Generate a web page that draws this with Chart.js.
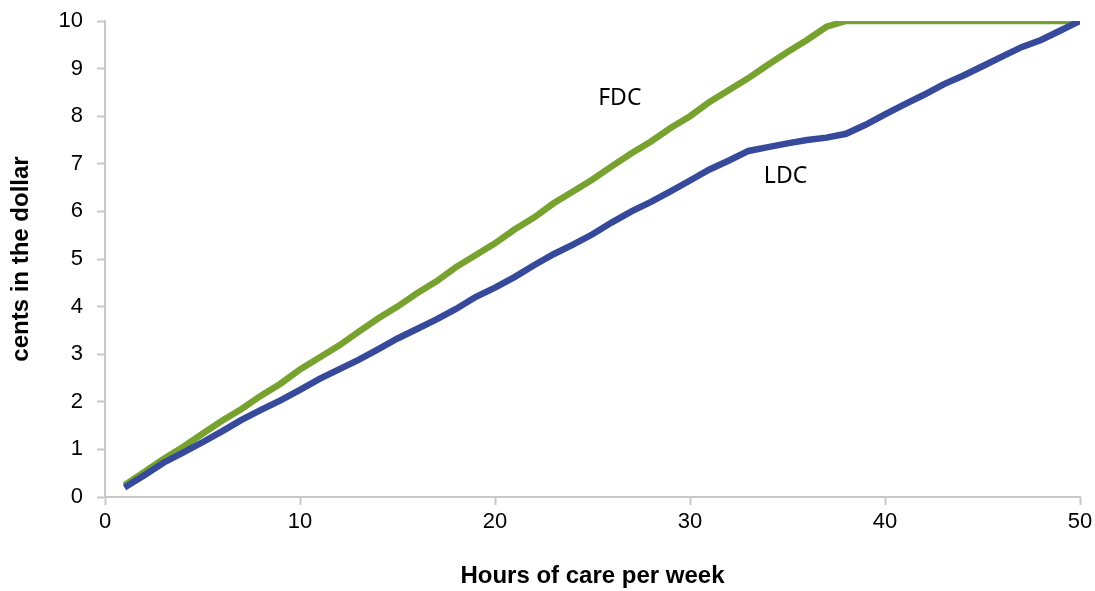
<html>
<head>
<script src="https://cdn.jsdelivr.net/npm/chart.js@4.4.1/dist/chart.umd.min.js"></script>
<style>
  body { margin: 0; background: #fff; }
  #wrap { width: 1095px; height: 591px; }
</style>
</head>
<body>
<div id="wrap"><canvas id="myChart" width="1095" height="591"></canvas></div>
<script>
// hours of care per week
var hours = [];
for (var h = 1; h <= 50; h++) hours.push(h);

// cents in the dollar
var fdc = [0.25, 0.52, 0.80, 1.05, 1.33, 1.60, 1.85, 2.13, 2.38, 2.68,
           2.93, 3.18, 3.47, 3.75, 4.00, 4.28, 4.53, 4.83, 5.08, 5.33,
           5.62, 5.87, 6.17, 6.42, 6.67, 6.95, 7.22, 7.47, 7.75, 8.00,
           8.30, 8.55, 8.80, 9.08, 9.35, 9.60, 9.88, 10, 10, 10,
           10, 10, 10, 10, 10, 10, 10, 10, 10, 10];
var ldc = [0.20, 0.45, 0.72, 0.93, 1.15, 1.38, 1.62, 1.83, 2.03, 2.25,
           2.48, 2.68, 2.88, 3.10, 3.33, 3.53, 3.73, 3.95, 4.20, 4.40,
           4.62, 4.87, 5.10, 5.30, 5.52, 5.77, 6.00, 6.20, 6.42, 6.65,
           6.88, 7.07, 7.27, 7.35, 7.43, 7.50, 7.55, 7.63, 7.82, 8.04,
           8.25, 8.45, 8.67, 8.85, 9.05, 9.25, 9.45, 9.60, 9.80, 10.0];

var xTicks = [0, 10, 20, 30, 40, 50];

function toPoints(vals) {
    return vals.map(function (v, i) { return { x: hours[i], y: v }; });
}

// series names written next to the lines
var seriesLabels = {
    id: 'seriesLabels',
    afterDatasetsDraw: function (chart, args, opts) {
        var ctx = chart.ctx;
        var xs = chart.scales.x, ys = chart.scales.y;
        ctx.save();
        ctx.font = '23px "Noto Sans"';
        ctx.fillStyle = '#000';
        ctx.textAlign = 'center';
        ctx.textBaseline = 'middle';
        opts.items.forEach(function (it) {
            ctx.fillText(it.text, xs.getPixelForValue(it.x), ys.getPixelForValue(it.y));
        });
        ctx.restore();
    }
};

var axisGrey = '#c8c8c8';
var tickFont = { family: '"Liberation Sans", Arial', size: 22 };
var titleFont = { family: '"Liberation Sans", Arial', size: 24, weight: 'bold' };

var ctx = document.getElementById('myChart').getContext('2d');
var myChart = new Chart(ctx, {
    type: 'line',
    data: {
        datasets: [{
            label: 'LDC',
            data: toPoints(ldc),
            borderColor: '#36499a',
            borderWidth: 6.5,
            pointRadius: 0,
            tension: 0,
            fill: false
        }, {
            label: 'FDC',
            data: toPoints(fdc),
            borderColor: '#78a22f',
            borderWidth: 6.5,
            pointRadius: 0,
            tension: 0,
            fill: false
        }]
    },
    options: {
        responsive: false,
        animation: false,
        layout: { padding: { top: 21, right: 15, left: 0, bottom: 0 } },
        plugins: {
            legend: { display: false },
            tooltip: { enabled: false },
            seriesLabels: {
                items: [
                    { text: 'FDC', x: 26.4, y: 8.38 },
                    { text: 'LDC', x: 34.9, y: 6.74 }
                ]
            }
        },
        scales: {
            x: {
                type: 'linear',
                min: 0,
                max: 50,
                afterBuildTicks: function (s) {
                    s.ticks = xTicks.map(function (v) { return { value: v }; });
                },
                afterFit: function (s) {
                    s.height = 94;
                    s.paddingLeft = 0;
                    s.paddingRight = 0;
                },
                border: { display: true, color: axisGrey, width: 2 },
                grid: { drawOnChartArea: false, drawTicks: true, tickLength: 8, color: axisGrey, tickWidth: 2 },
                ticks: { padding: 4, maxRotation: 0, color: '#000', font: tickFont },
                title: {
                    display: true,
                    text: 'Hours of care per week',
                    color: '#000',
                    padding: { top: 0, bottom: 0 },
                    font: titleFont
                }
            },
            y: {
                min: 0,
                max: 10,
                ticks: { stepSize: 1, padding: 14, color: '#000', font: tickFont },
                afterFit: function (s) {
                    s.width = 105;
                    s.paddingTop = 0;
                    s.paddingBottom = 0;
                },
                border: { display: true, color: axisGrey, width: 2 },
                grid: { drawOnChartArea: false, drawTicks: true, tickLength: 8, color: axisGrey, tickWidth: 2 },
                title: {
                    display: true,
                    text: 'cents in the dollar',
                    color: '#000',
                    padding: { top: 7, bottom: 0 },
                    font: titleFont
                }
            }
        }
    },
    plugins: [seriesLabels]
});
</script>
</body>
</html>
